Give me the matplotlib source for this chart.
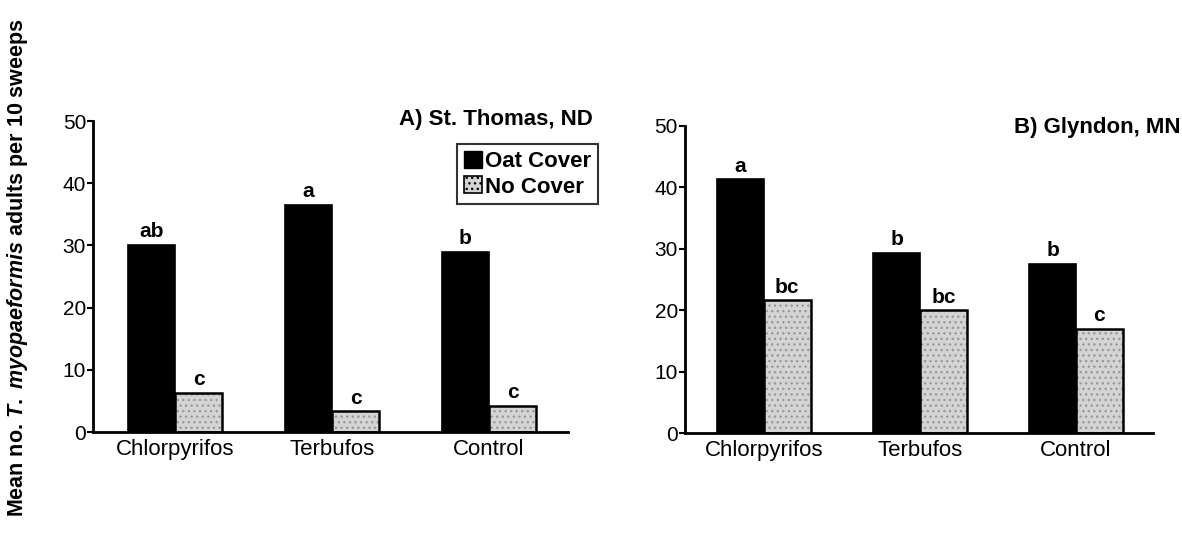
import numpy as np
import matplotlib
matplotlib.use('Agg')
import matplotlib.pyplot as plt
import matplotlib.patches as mpatches

plt.rcParams['font.family'] = ['Liberation Sans', 'DejaVu Sans']
plt.rcParams['mathtext.fontset'] = 'custom'
plt.rcParams['mathtext.it'] = 'Liberation Sans:italic:bold'
plt.rcParams['mathtext.rm'] = 'Liberation Sans:bold'

categories = ['Chlorpyrifos', 'Terbufos', 'Control']
series_names = ['Oat Cover', 'No Cover']

# A) St. Thomas, ND
a_oat = [30.1, 36.5, 29.0]
a_none = [6.3, 3.3, 4.2]
a_oat_letters = ['ab', 'a', 'b']
a_none_letters = ['c', 'c', 'c']

# B) Glyndon, MN
b_oat = [41.3, 29.3, 27.6]
b_none = [21.6, 20.0, 17.0]
b_oat_letters = ['a', 'b', 'b']
b_none_letters = ['bc', 'bc', 'c']

yticks = [0, 10, 20, 30, 40, 50]

fig = plt.figure(figsize=(11.82, 5.38), dpi=100)
axA = fig.add_axes([0.0787, 0.197, 0.4018, 0.578])
axB = fig.add_axes([0.5795, 0.195, 0.3960, 0.571])

w = 0.30


def panel(ax, oat, none, oat_lab, none_lab, xlim):
    x = np.arange(len(categories))
    ax.bar(x - w / 2, oat, w, color='black', edgecolor='black',
           linewidth=1.2)
    ax.bar(x + w / 2, none, w, color='#d4d4d4', edgecolor='#9a9a9a',
           hatch='...', linewidth=0)
    ax.bar(x + w / 2, none, w, fill=False, edgecolor='black', linewidth=1.8)
    for xi, v, t in zip(x - w / 2, oat, oat_lab):
        ax.text(xi, v + 0.6, t, ha='center', va='bottom', fontsize=15,
                fontweight='bold')
    for xi, v, t in zip(x + w / 2, none, none_lab):
        ax.text(xi, v + 0.6, t, ha='center', va='bottom', fontsize=15,
                fontweight='bold')
    ax.set_ylim(0, 50)
    ax.set_xlim(*xlim)
    ax.set_yticks(yticks)
    ax.set_xticks(x)
    ax.set_xticklabels(categories, fontsize=16)
    ax.tick_params(axis='x', length=0, pad=5)
    ax.tick_params(axis='y', length=4, width=1.5, labelsize=15, pad=1)
    for s in ['top', 'right']:
        ax.spines[s].set_visible(False)
    for s in ['left', 'bottom']:
        ax.spines[s].set_linewidth(2)


panel(axA, a_oat, a_none, a_oat_letters, a_none_letters, (-0.522, 2.503))
panel(axB, b_oat, b_none, b_oat_letters, b_none_letters, (-0.506, 2.494))

fig.text(593 / 1182, 1 - 120 / 538, 'A) St. Thomas, ND', ha='right',
         va='center', fontsize=16, fontweight='bold')
fig.text(1181 / 1182, 1 - 128 / 538, 'B) Glyndon, MN', ha='right',
         va='center', fontsize=16, fontweight='bold')

# legend
h1 = mpatches.Patch(facecolor='black', edgecolor='black')
h2 = mpatches.Patch(facecolor='#d4d4d4', edgecolor='black', hatch='...',
                    linewidth=1.2)
leg = fig.legend([h1, h2], series_names, loc='upper right',
                 bbox_to_anchor=(598 / 1182, 1 - 144 / 538),
                 frameon=True, fancybox=False, edgecolor='black',
                 prop={'weight': 'bold', 'size': 16}, handlelength=0.8,
                 handleheight=0.8, handletextpad=0.15, borderpad=0.3,
                 labelspacing=0.2, borderaxespad=0)
leg.get_frame().set_linewidth(1.5)

fig.text(18 / 1182, 1 - 268 / 538,
         r'Mean no. $T.\ myopaeformis$ adults per 10 sweeps',
         rotation=90, ha='center', va='center', fontsize=15.5,
         fontweight='bold')

plt.savefig('out.png', dpi=100)
